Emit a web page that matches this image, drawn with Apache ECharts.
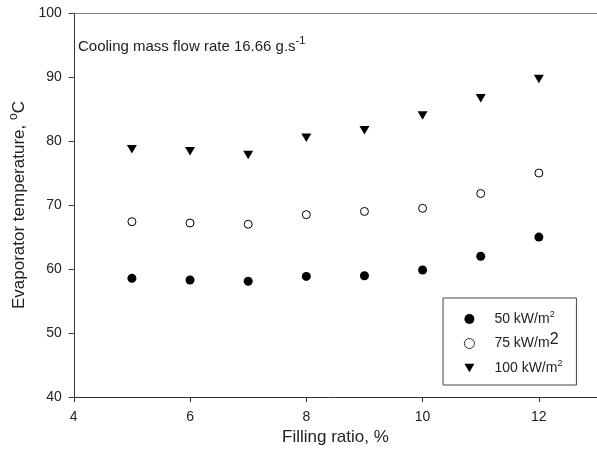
<!DOCTYPE html>
<html>
<head>
<meta charset="utf-8">
<script src="https://cdn.jsdelivr.net/npm/echarts@6/dist/echarts.min.js"></script>
<style>
html,body{margin:0;padding:0;background:#fff;}
#chart{width:597px;height:451px;}
</style>
</head>
<body>
<div id="chart"></div>
<script>
// ---- data ----
const fillingRatio = [5, 6, 7, 8, 9, 10, 11, 12];
const temp50  = [58.55, 58.3, 58.1, 58.85, 58.95, 59.85, 62.0, 65.0];
const temp75  = [67.4, 67.2, 67.0, 68.5, 69.0, 69.5, 71.8, 75.0];
const temp100 = [78.7, 78.4, 77.8, 80.5, 81.7, 84.0, 86.7, 89.7];
const xTicks = [4, 6, 8, 10, 12];
const yTicks = [40, 50, 60, 70, 80, 90, 100];
const seriesNames = ['50 kW/m2', '75 kW/m2', '100 kW/m2'];

const pairs = arr => fillingRatio.map((x, i) => [x, arr[i]]);
const FONT = 'Liberation Sans';
const TXT = '#222';
const AX = '#333';
const DOWN_TRI = 'path://M0,0 L10,0 L5,8.5 Z';

const chart = echarts.init(document.getElementById('chart'), null, {renderer: 'canvas'});
chart.setOption({
  backgroundColor: '#fff',
  animation: false,
  textStyle: {fontFamily: FONT},
  title: {
    left: 78, top: 35, padding: 0,
    text: 'Cooling mass flow rate 16.66 g.s{sup|-1}',
    textStyle: {
      fontFamily: FONT, fontSize: 15, fontWeight: 'normal', color: TXT,
      rich: {sup: {fontFamily: FONT, fontSize: 11, color: TXT, padding: [0, 0, 13, 0]}}
    }
  },
  grid: {left: 64, top: 13, width: 535, height: 385, containLabel: false},
  xAxis: [{
    type: 'value', min: 4, max: 13, position: 'bottom',
    name: 'Filling ratio, %', nameLocation: 'middle', nameGap: 30,
    nameTextStyle: {fontFamily: FONT, fontSize: 17, color: TXT},
    axisLine: {show: true, onZero: false, lineStyle: {color: AX, width: 1}},
    axisTick: {show: true, length: 5, inside: false, customValues: xTicks, lineStyle: {color: AX}},
    axisLabel: {customValues: xTicks, margin: 13, fontFamily: FONT, fontSize: 14, color: TXT},
    splitLine: {show: false}
  }, {
    type: 'value', min: 4, max: 13, position: 'top',
    axisLine: {show: true, onZero: false, lineStyle: {color: '#808080', width: 1}},
    axisTick: {show: false}, axisLabel: {show: false}, splitLine: {show: false}
  }],
  yAxis: {
    type: 'value', min: 40, max: 100, interval: 10,
    name: 'Evaporator temperature, {sup|o}C', nameLocation: 'middle', nameGap: 37,
    nameTextStyle: {
      fontFamily: FONT, fontSize: 17, color: TXT,
      rich: {sup: {fontFamily: FONT, fontSize: 12, color: TXT, padding: [0, 0, 10, 0]}}
    },
    axisLine: {show: true, onZero: false, lineStyle: {color: AX, width: 1}},
    axisTick: {show: true, length: 5, customValues: yTicks, lineStyle: {color: AX}},
    axisLabel: {customValues: yTicks, margin: 12, fontFamily: FONT, fontSize: 14, color: TXT},
    splitLine: {show: false}
  },
  legend: {
    orient: 'vertical',
    left: 443, top: 298,
    padding: [12, 14, 8, 21],
    itemWidth: 10, itemHeight: 10, itemGap: 4,
    borderColor: '#444', borderWidth: 1,
    backgroundColor: '#fff',
    data: [
      {name: seriesNames[0]},
      {name: seriesNames[1], itemStyle: {color: '#fff', borderColor: '#000', borderWidth: 0.8}},
      {name: seriesNames[2], icon: DOWN_TRI}
    ],
    formatter: function (name) {
      if (name === '75 kW/m2') return '{n|75 kW/m}{big|2}';
      return '{n|' + name.replace(/2$/, '}{sup|2}');
    },
    textStyle: {
      fontFamily: FONT, fontSize: 14, color: TXT, lineHeight: 10, padding: [0, 0, 0, 15],
      rich: {
        n: {fontFamily: FONT, fontSize: 14, color: TXT, lineHeight: 10},
        sup: {fontFamily: FONT, fontSize: 9, color: TXT, lineHeight: 1, padding: [0, 0, 9, 0]},
        big: {fontFamily: FONT, fontSize: 16, color: TXT, lineHeight: 1, padding: [0, 0, 7, 0]}
      }
    }
  },
  series: [{
    name: seriesNames[0], type: 'scatter', data: pairs(temp50),
    symbol: 'circle', symbolSize: 9,
    itemStyle: {color: '#000', borderColor: '#000', borderWidth: 0, opacity: 1}
  }, {
    name: seriesNames[1], type: 'scatter', data: pairs(temp75),
    symbol: 'circle', symbolSize: 8,
    itemStyle: {color: '#fff', borderColor: '#000', borderWidth: 1, opacity: 1}
  }, {
    name: seriesNames[2], type: 'scatter', data: pairs(temp100),
    symbol: DOWN_TRI, symbolSize: [10, 8.5],
    itemStyle: {color: '#000', borderColor: '#000', borderWidth: 0, opacity: 1}
  }]
});
</script>
</body>
</html>
